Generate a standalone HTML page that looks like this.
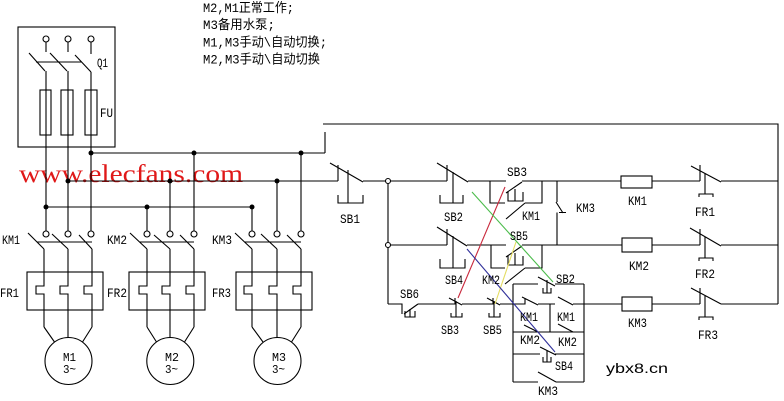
<!DOCTYPE html>
<html><head><meta charset="utf-8">
<style>
html,body{margin:0;padding:0;background:#fff;}
svg{display:block}
text{font-family:"Liberation Mono","Noto Sans CJK SC",monospace;fill:#000;}
</style></head><body>
<svg width="784" height="401" viewBox="0 0 784 401" xmlns="http://www.w3.org/2000/svg">
<rect width="784" height="401" fill="#fff"/>

<!-- top note text -->
<g font-size="13">
<text x="203" y="12" textLength="91" lengthAdjust="spacingAndGlyphs">M2,M1正常工作;</text>
<text x="203" y="29" textLength="72" lengthAdjust="spacingAndGlyphs">M3备用水泵;</text>
<text x="203" y="46.5" textLength="124" lengthAdjust="spacingAndGlyphs">M1,M3手动\自动切换;</text>
<text x="203" y="63.5" textLength="117" lengthAdjust="spacingAndGlyphs">M2,M3手动\自动切换</text>
</g>

<!-- watermark -->
<text x="19" y="182" font-size="25" textLength="224" lengthAdjust="spacingAndGlyphs" style="font-family:'Liberation Serif',serif;fill:#e01818">www.elecfans.com</text>
<text x="606" y="373" font-size="14" textLength="62" lengthAdjust="spacingAndGlyphs" style="font-family:'Liberation Sans',sans-serif">ybx8.cn</text>

<g fill="none" stroke="#000" stroke-width="1.1">
<!-- Q1 box -->
<rect x="18" y="27" width="97" height="120"/>
<circle cx="46" cy="39" r="3"/><circle cx="68" cy="39" r="3"/><circle cx="91" cy="39" r="3"/>
<path d="M46 42V52M68 42V52M91 42V54"/>
<path d="M29 53L45 71M50 53L67 71M75 55L91 72M36 62H82"/>
<path d="M46 71V231M68 71V231M91 72V231"/>
<rect x="40" y="90" width="11" height="45"/>
<rect x="61" y="90" width="12" height="45"/>
<rect x="85" y="90" width="12" height="45"/>

<!-- buses -->
<path d="M91 153H325M325 132V153M323 124H778V304"/>
<path d="M68 181H338"/>
<path d="M46 207H252"/>
<path d="M147 207V231M170 181V231M194 153V231M252 207V231M277 181V231M301 153V231"/>

<!-- contactor terminals -->
<circle cx="46" cy="234" r="3"/><circle cx="68" cy="234" r="3"/><circle cx="91" cy="234" r="3"/>
<circle cx="147" cy="234" r="3"/><circle cx="170" cy="234" r="3"/><circle cx="194" cy="234" r="3"/>
<circle cx="252" cy="234" r="3"/><circle cx="277" cy="234" r="3"/><circle cx="301" cy="234" r="3"/>

<!-- group 1 -->
<path d="M28 233L44 249M52 234L68 249M79 235L92 249M37 242H92"/>
<path d="M44 249V286H36V294H44V327M68 249V286H60V294H68V327M92 249V286H84V294H92V327"/>
<rect x="27" y="272" width="76" height="38"/>
<path d="M44 327L54.5 342M68 327V337.5M92 327L82.5 342"/>
<circle cx="68.5" cy="361" r="23.5"/>

<!-- group 2 -->
<path d="M130 233L147 249M154 235L170 249M180 235L194 249M140 242H194"/>
<path d="M147 249V286H139V294H147V327M170 249V286H162V294H170V327M194 249V286H186V294H194V327"/>
<rect x="129" y="272" width="76" height="38"/>
<path d="M147 327L156.5 342M170 327V337.5M194 327L184.5 342"/>
<circle cx="170.3" cy="361" r="23.5"/>

<!-- group 3 -->
<path d="M235 233L252 249M261 234L277 249M287 235L301 249M245 242H301"/>
<path d="M252 249V286H244V294H252V327M277 249V286H269V294H277V327M301 249V286H293V294H301V327"/>
<rect x="236" y="272" width="76" height="38"/>
<path d="M252 327L263 342M277 327V337.5M301 327L291.5 342"/>
<circle cx="277.5" cy="361" r="23.5"/>

<!-- row 1 -->
<path d="M338 165V181M330 163L363 182M363 181H447M348 170V203M338 195V203H363V195"/>
<path d="M388 183.5V242.5M388 247.5V304"/>
<path d="M447 165V181M437 163L468 182M453 172V203M440 195V203H463V195"/>
<path d="M468 181H506M506 193L522 182M508 192V201H523V192M515 189V201M522 181H621"/>
<path d="M490 181V203H505M506 219L525 203M525 203H542V181"/>
<path d="M557 181V202M556 202L563 213M559 212.5H566M557 212.5V245"/>
<rect x="621" y="176" width="31" height="12"/>
<path d="M652 181H700M700 165V181M691 166L721 182M705 173V194M699 197V194H713V197M721 181H778"/>

<!-- row 2 -->
<path d="M390.5 245H447M447 229V245M437 227L467 246M453 236V268M440 259V268H465V259"/>
<path d="M467 245H506M506 257L522 246M508 256V265H523V256M515 253V265M522 245H622"/>
<path d="M491 245V268H505M505 284L525 268M525 268H542V245"/>
<rect x="622" y="238" width="30" height="14"/>
<path d="M652 245H700M700 229V245M690 228L721 246M705 237V258M699 261V258H713V261M721 245H778"/>

<!-- row 3 -->
<path d="M388 304H402V314M404 314L418 304M405 311V317H415V311M410 309V317"/>
<path d="M418 304H455V298M449 298L462 305M456 301V317M451 313V317H462V313"/>
<path d="M462 304H493V298M487 298L500 305M494 301V317M489 313V317H500V313"/>
<path d="M500 304H525V298M522 297L538 305M538 304H555M558 297L573 305M573 304H622"/>
<rect x="622" y="297" width="30" height="14"/>
<path d="M652 304H700M700 288V304M691 288L721 304M705 296V317M699 320V317H713V320M721 304H778"/>

<!-- lower box -->
<path d="M513 284V382M584 284V382"/>
<path d="M513 284H538M538 277L555 286M555 284H584M547 280V293M543 288V293H551V288"/>
<path d="M550 304V332M513 332H584M524 325L538 332M558 324L573 332"/>
<path d="M513 354H540M540 347L556 355M555 354H584M547 350V362M543 357V362H551V357"/>
<path d="M513 382H538M538 372L556 382M556 382H584"/>
</g>

<!-- dots -->
<g fill="#000">
<circle cx="91" cy="153" r="2.5"/><circle cx="194" cy="153" r="2.5"/><circle cx="301" cy="153" r="2.5"/>
<circle cx="68" cy="181" r="2.5"/><circle cx="170" cy="181" r="2.5"/><circle cx="277" cy="181" r="2.5"/>
<circle cx="46" cy="207" r="2.5"/><circle cx="147" cy="207" r="2.5"/><circle cx="252" cy="207" r="2.5"/>
</g>
<g fill="#fff" stroke="#000" stroke-width="1.1">
<circle cx="388" cy="181" r="2.5"/><circle cx="388" cy="245" r="2.5"/>
</g>

<!-- colored lines -->
<g stroke-width="1.1">
<line x1="505" y1="187" x2="458" y2="298" stroke="#c8283c"/>
<line x1="472" y1="192" x2="553" y2="282" stroke="#4cbc4c"/>
<line x1="516" y1="242" x2="495" y2="304" stroke="#e4dc60"/>
<line x1="467" y1="249" x2="555" y2="352" stroke="#30309a"/>
</g>

<!-- labels -->
<g font-size="13">
<text x="97" y="67" textLength="11" lengthAdjust="spacingAndGlyphs">Q1</text>
<text x="100" y="117" textLength="13" lengthAdjust="spacingAndGlyphs">FU</text>
<text x="2" y="244" textLength="18" lengthAdjust="spacingAndGlyphs">KM1</text>
<text x="107" y="244" textLength="20" lengthAdjust="spacingAndGlyphs">KM2</text>
<text x="212" y="244" textLength="20" lengthAdjust="spacingAndGlyphs">KM3</text>
<text x="0" y="297" textLength="19" lengthAdjust="spacingAndGlyphs">FR1</text>
<text x="107" y="297" textLength="20" lengthAdjust="spacingAndGlyphs">FR2</text>
<text x="212" y="297" textLength="19" lengthAdjust="spacingAndGlyphs">FR3</text>

<text x="340" y="223" textLength="20" lengthAdjust="spacingAndGlyphs">SB1</text>
<text x="444" y="221" textLength="19" lengthAdjust="spacingAndGlyphs">SB2</text>
<text x="507" y="176" textLength="20" lengthAdjust="spacingAndGlyphs">SB3</text>
<text x="522" y="220" textLength="18" lengthAdjust="spacingAndGlyphs">KM1</text>
<text x="510" y="240" textLength="18" lengthAdjust="spacingAndGlyphs">SB5</text>
<text x="576" y="212" textLength="19" lengthAdjust="spacingAndGlyphs">KM3</text>
<text x="445" y="284" textLength="18" lengthAdjust="spacingAndGlyphs">SB4</text>
<text x="482" y="284" textLength="18" lengthAdjust="spacingAndGlyphs">KM2</text>
<text x="556" y="283" textLength="19" lengthAdjust="spacingAndGlyphs">SB2</text>
<text x="400" y="298" textLength="19" lengthAdjust="spacingAndGlyphs">SB6</text>
<text x="441" y="334" textLength="18" lengthAdjust="spacingAndGlyphs">SB3</text>
<text x="483" y="334" textLength="19" lengthAdjust="spacingAndGlyphs">SB5</text>
<text x="520" y="321" textLength="18" lengthAdjust="spacingAndGlyphs">KM1</text>
<text x="557" y="321" textLength="18" lengthAdjust="spacingAndGlyphs">KM1</text>
<text x="520" y="344" textLength="20" lengthAdjust="spacingAndGlyphs">KM2</text>
<text x="558" y="346" textLength="19" lengthAdjust="spacingAndGlyphs">KM2</text>
<text x="555" y="370" textLength="18" lengthAdjust="spacingAndGlyphs">SB4</text>
<text x="538" y="395" textLength="20" lengthAdjust="spacingAndGlyphs">KM3</text>

<text x="628" y="205" textLength="19" lengthAdjust="spacingAndGlyphs">KM1</text>
<text x="629" y="270" textLength="20" lengthAdjust="spacingAndGlyphs">KM2</text>
<text x="628" y="327" textLength="19" lengthAdjust="spacingAndGlyphs">KM3</text>
<text x="695" y="216" textLength="20" lengthAdjust="spacingAndGlyphs">FR1</text>
<text x="695" y="278" textLength="20" lengthAdjust="spacingAndGlyphs">FR2</text>
<text x="698" y="339" textLength="20" lengthAdjust="spacingAndGlyphs">FR3</text>
</g>
<g font-size="12" style="font-family:'Liberation Sans',sans-serif">
<text x="63" y="361" textLength="13" lengthAdjust="spacingAndGlyphs">M1</text>
<text x="63" y="373" textLength="13" lengthAdjust="spacingAndGlyphs">3~</text>
<text x="165" y="361" textLength="14" lengthAdjust="spacingAndGlyphs">M2</text>
<text x="165" y="373" textLength="13" lengthAdjust="spacingAndGlyphs">3~</text>
<text x="272" y="361" textLength="14" lengthAdjust="spacingAndGlyphs">M3</text>
<text x="272" y="373" textLength="13" lengthAdjust="spacingAndGlyphs">3~</text>
</g>
</svg>
</body></html>
